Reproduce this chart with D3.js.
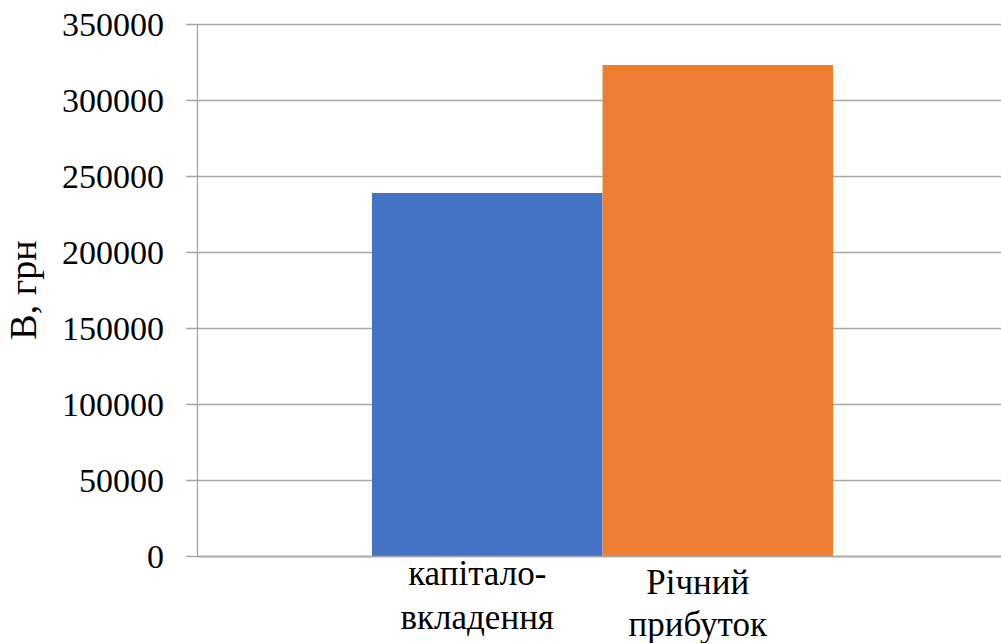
<!DOCTYPE html>
<html lang="uk">
<head>
<meta charset="UTF-8" />
<script src="https://cdnjs.cloudflare.com/ajax/libs/d3/7.8.5/d3.min.js"></script>
<title>chart</title>
<style>
  body { margin: 0; background: #fff; }
</style>
</head>
<body>
<div class="chart"></div>
<script>
// data
const categories = ['капітало-вкладення', 'Річний прибуток']
const labelLines = [['капітало-', 'вкладення'], ['Річний', 'прибуток']]
const values = [238800, 323000]
const colors = ['#4472C4', '#ED7D31']
const yTicks = [0, 50000, 100000, 150000, 200000, 250000, 300000, 350000]

const svgWidth = 1001
const svgHeight = 643
const plotLeft = 197
const plotTop = 24
const plotBottom = 556
const gridColor = '#a6a6a6'

const svg = d3.select('.chart').append('svg')
  .attr('width', svgWidth)
  .attr('height', svgHeight)
  .attr('font-family', "'Liberation Serif', Tinos, 'Times New Roman', 'DejaVu Serif', serif")

const yScale = d3.scaleLinear().domain([0, 350000]).range([plotBottom, plotTop])
// bars sit in the middle of the plot, touching each other
const xScale = d3.scaleBand().domain(categories).range([372, 833]).padding(0)

// gridlines
svg.append('g')
  .selectAll('line')
  .data(yTicks)
  .join('line')
  .attr('x1', plotLeft - 11)
  .attr('x2', svgWidth)
  .attr('y1', d => Math.round(yScale(d)) + 0.5)
  .attr('y2', d => Math.round(yScale(d)) + 0.5)
  .attr('stroke', gridColor)
  .attr('stroke-width', 1.3)

// y axis line
svg.append('line')
  .attr('x1', plotLeft + 0.5).attr('x2', plotLeft + 0.5)
  .attr('y1', plotTop).attr('y2', plotBottom)
  .attr('stroke', gridColor)
  .attr('stroke-width', 1.3)

// tick labels
svg.append('g')
  .selectAll('text')
  .data(yTicks)
  .join('text')
  .attr('x', 164)
  .attr('y', d => yScale(d))
  .attr('dy', '0.36em')
  .attr('text-anchor', 'end')
  .attr('font-size', 34)
  .text(d => d)

// bars
svg.append('g')
  .selectAll('rect')
  .data(values)
  .join('rect')
  .attr('x', (d, i) => xScale(categories[i]))
  .attr('y', d => yScale(d))
  .attr('width', xScale.bandwidth())
  .attr('height', d => yScale(0) - yScale(d))
  .attr('fill', (d, i) => colors[i])

// redraw the baseline over the bars
svg.append('line')
  .attr('x1', plotLeft).attr('x2', svgWidth)
  .attr('y1', Math.round(yScale(0)) + 0.5).attr('y2', Math.round(yScale(0)) + 0.5)
  .attr('stroke', gridColor)
  .attr('stroke-width', 1.3)

// category labels (wrapped in two lines)
const labelShift = [-10, -20]
const labelBase = [[585, 629], [594, 636]]
categories.forEach((c, i) => {
  const cx = xScale(c) + xScale.bandwidth() / 2 + labelShift[i]
  svg.append('text')
    .attr('text-anchor', 'middle')
    .attr('font-size', 35)
    .selectAll('tspan')
    .data(labelLines[i])
    .join('tspan')
    .attr('x', cx)
    .attr('y', (d, j) => labelBase[i][j])
    .text(d => d)
})

// y axis title
svg.append('text')
  .attr('transform', `translate(36, ${(plotTop + plotBottom) / 2}) rotate(-90)`)
  .attr('text-anchor', 'middle')
  .attr('font-size', 38)
  .text('В, грн')
</script>
</body>
</html>
